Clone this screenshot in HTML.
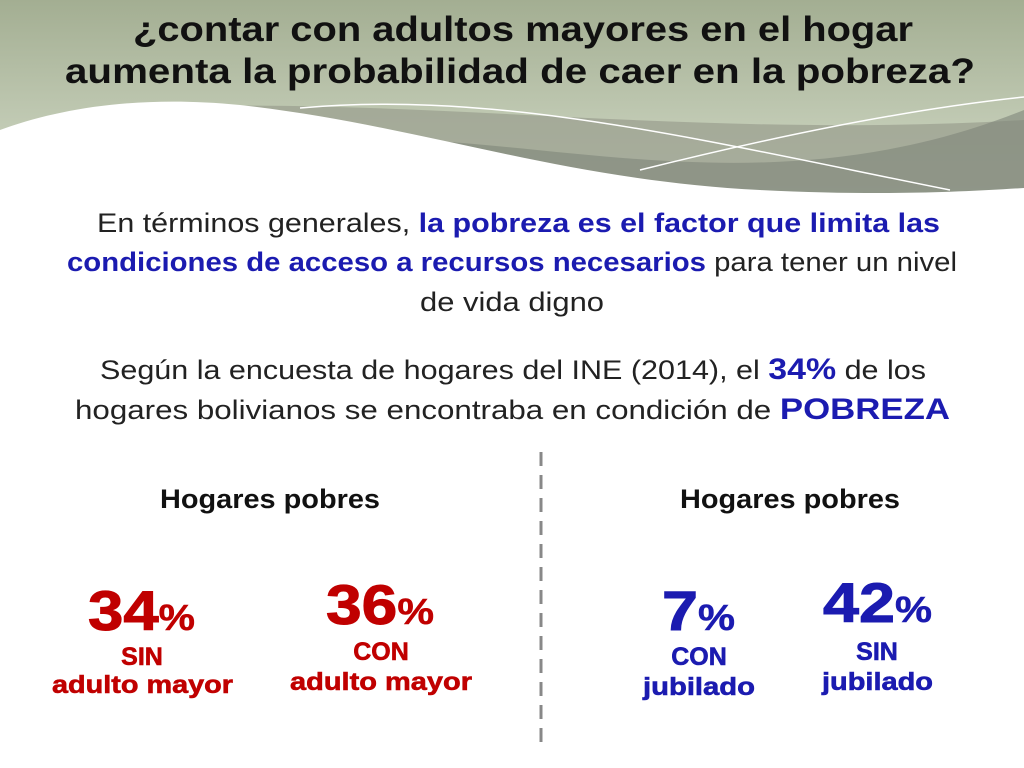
<!DOCTYPE html>
<html><head><meta charset="utf-8"><style>
html,body{margin:0;padding:0;background:#fff;}
svg{display:block;}
text{font-family:"Liberation Sans",sans-serif;}
</style></head><body>
<svg width="1024" height="768" viewBox="0 0 1024 768" xmlns="http://www.w3.org/2000/svg">
<defs>
<linearGradient id="hg" x1="0" y1="0" x2="0" y2="1">
<stop offset="0" stop-color="#a3ae92"/><stop offset="1" stop-color="#d3dbc8"/>
</linearGradient>
</defs>
<g>
<rect x="0" y="0" width="1024" height="200" fill="url(#hg)"/>
<path d="M150,108 C400,95 700,140 1024,120 L1024,200 L0,200 Z" fill="#9da292" opacity="0.8"/>
<path d="M420,140 C600,150 800,200 1024,110 L1024,200 L0,200Z" fill="#7f867a" opacity="0.6"/>
<path d="M0,130 C60,108 140,95 240,105 C420,125 560,180 760,190 C880,196 960,192 1024,188 L1024,768 L0,768 Z" fill="#fff"/>
<path d="M300,108 C500,90 700,140 950,190" stroke="#fff" stroke-width="1.5" fill="none"/>
<path d="M640,170 C760,140 900,110 1024,97" stroke="#fff" stroke-width="1.5" fill="none"/>
</g>
<text x="133" y="41" font-weight="bold" font-size="35" textLength="780" lengthAdjust="spacingAndGlyphs" fill="#111">¿contar con adultos mayores en el hogar</text>
<text x="65" y="83" font-weight="bold" font-size="35" textLength="910" lengthAdjust="spacingAndGlyphs" fill="#111">aumenta la probabilidad de caer en la pobreza?</text>
<g font-size="27" fill="#222">
<text x="97" y="232" textLength="843" lengthAdjust="spacingAndGlyphs">En términos generales, <tspan fill="#1b1bb0" font-weight="bold">la pobreza es el factor que limita las</tspan></text>
<text x="67" y="271" textLength="890" lengthAdjust="spacingAndGlyphs"><tspan fill="#1b1bb0" font-weight="bold">condiciones de acceso a recursos necesarios</tspan> para tener un nivel</text>
<text x="420" y="311" textLength="184" lengthAdjust="spacingAndGlyphs">de vida digno</text>
<text x="100" y="379" textLength="826" lengthAdjust="spacingAndGlyphs">Según la encuesta de hogares del INE (2014), el <tspan fill="#1b1bb0" font-weight="bold" font-size="30">34%</tspan> de los</text>
<text x="75" y="419" textLength="875" lengthAdjust="spacingAndGlyphs">hogares bolivianos se encontraba en condición de <tspan fill="#1b1bb0" font-weight="bold" font-size="30">POBREZA</tspan></text>
</g>
<text x="160" y="508" font-size="27" font-weight="bold" fill="#111" textLength="220" lengthAdjust="spacingAndGlyphs">Hogares pobres</text>
<text x="680" y="508" font-size="27" font-weight="bold" fill="#111" textLength="220" lengthAdjust="spacingAndGlyphs">Hogares pobres</text>
<line x1="541" y1="452" x2="541" y2="750" stroke="#888" stroke-width="3" stroke-dasharray="14,9"/>
<g fill="#c00000" font-weight="bold" stroke="#c00000" stroke-width="1">
<text x="88" y="630" font-size="56" textLength="107" lengthAdjust="spacingAndGlyphs">34<tspan font-size="36" stroke-width="0.5">%</tspan></text>
<text x="142" y="665" font-size="25" text-anchor="middle" stroke-width="0.6">SIN</text>
<text x="52" y="693" font-size="25" textLength="181" lengthAdjust="spacingAndGlyphs" stroke-width="0.6">adulto mayor</text>
</g>
<g fill="#c00000" font-weight="bold" stroke="#c00000" stroke-width="1">
<text x="326" y="624" font-size="56" textLength="108" lengthAdjust="spacingAndGlyphs">36<tspan font-size="36" stroke-width="0.5">%</tspan></text>
<text x="381" y="660" font-size="25" text-anchor="middle" stroke-width="0.6">CON</text>
<text x="290" y="690" font-size="25" textLength="182" lengthAdjust="spacingAndGlyphs" stroke-width="0.6">adulto mayor</text>
</g>
<g fill="#1b1bb0" font-weight="bold" stroke="#1b1bb0" stroke-width="1">
<text x="662" y="630" font-size="56" textLength="73" lengthAdjust="spacingAndGlyphs">7<tspan font-size="36" stroke-width="0.5">%</tspan></text>
<text x="699" y="665" font-size="25" text-anchor="middle" stroke-width="0.6">CON</text>
<text x="643" y="695" font-size="25" textLength="112" lengthAdjust="spacingAndGlyphs" stroke-width="0.6">jubilado</text>
</g>
<g fill="#1b1bb0" font-weight="bold" stroke="#1b1bb0" stroke-width="1">
<text x="823" y="622" font-size="56" textLength="109" lengthAdjust="spacingAndGlyphs">42<tspan font-size="36" stroke-width="0.5">%</tspan></text>
<text x="877" y="660" font-size="25" text-anchor="middle" stroke-width="0.6">SIN</text>
<text x="822" y="690" font-size="25" textLength="111" lengthAdjust="spacingAndGlyphs" stroke-width="0.6">jubilado</text>
</g>
</svg>
</body></html>
